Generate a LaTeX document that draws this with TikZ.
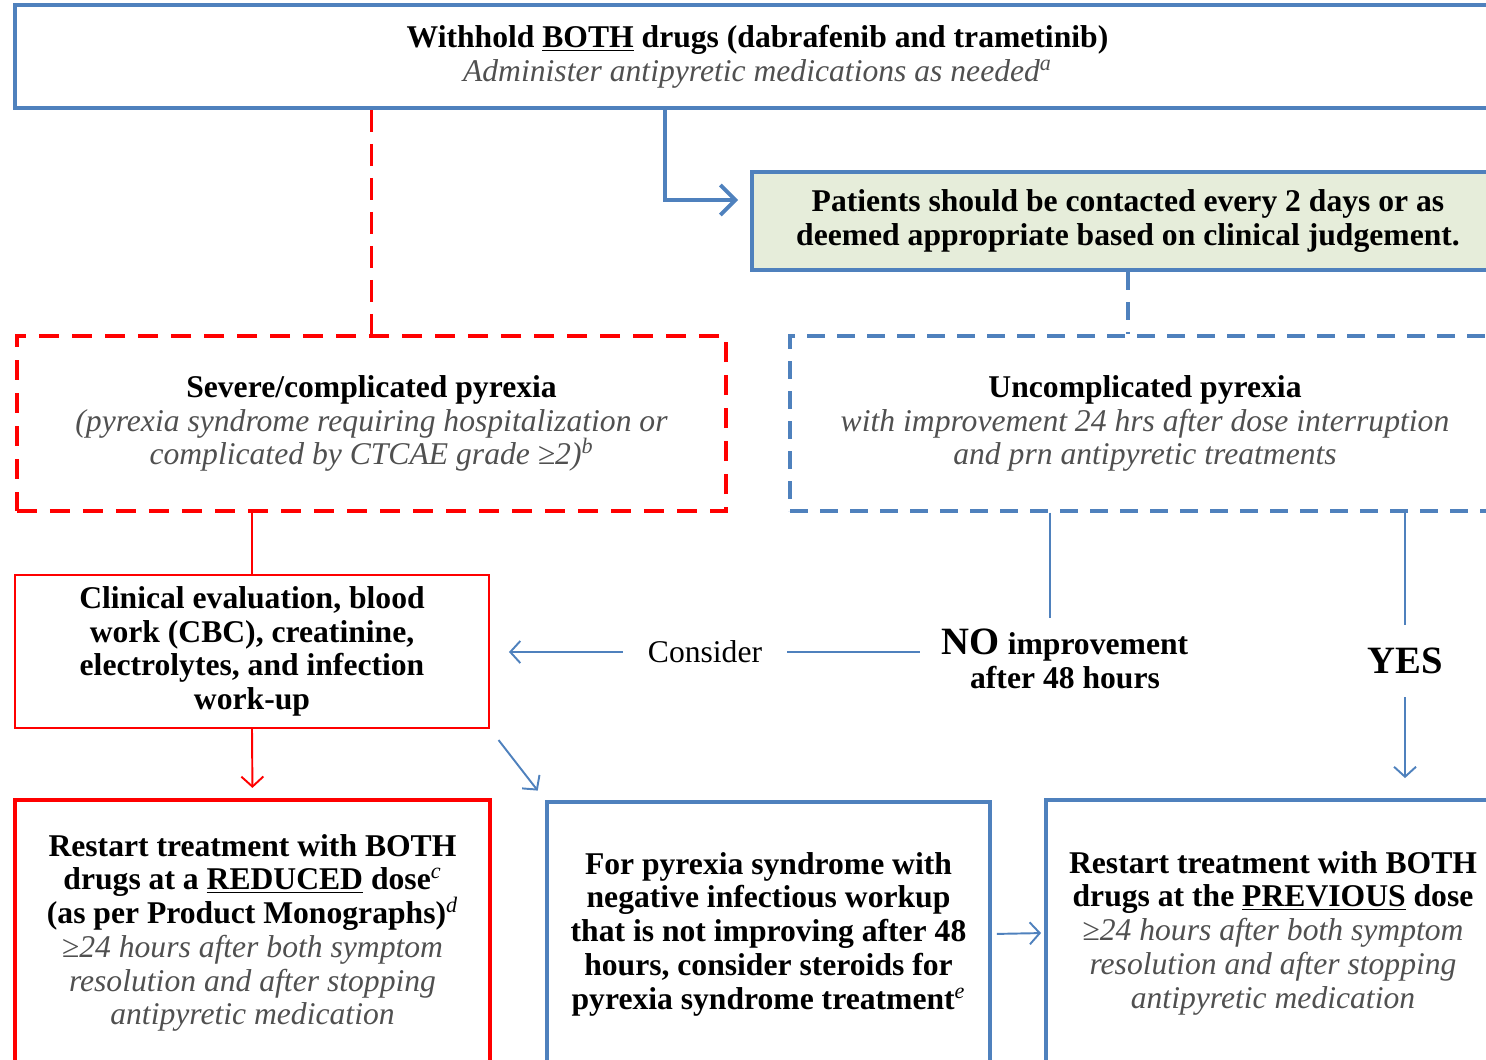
\documentclass[tikz,border=0pt]{standalone}
\usepackage{fontspec}
\setmainfont{Liberation Serif}
\usetikzlibrary{arrows.meta,positioning}

\definecolor{boxblue}{RGB}{79,129,189}
\definecolor{boxred}{RGB}{255,0,0}
\definecolor{notegreen}{RGB}{230,237,218}
\definecolor{notegray}{RGB}{80,80,80}
\newcommand\boxfont{\fontsize{18}{19.2}\selectfont\bfseries}
\newcommand\gnote[1]{{\color{notegray}\mdseries\itshape #1}}
\newcommand\fnote[1]{\textsuperscript{\mdseries\itshape #1}}

\begin{document}
\begin{tikzpicture}[x=0.2mm,y=-0.2mm]
\tikzset{
  bluebox/.style={draw=boxblue,line width=2.2pt,align=center,inner sep=0pt,font=\boxfont},
  redbox/.style={draw=boxred,line width=1.1pt,align=center,inner sep=0pt,font=\boxfont},
  reddashbox/.style={redbox,line width=2.2pt,dash pattern=on 4mm off 2.6mm},
  bluedashbox/.style={bluebox,line width=1.8pt,dash pattern=on 3.6mm off 2.4mm},
  flowlabel/.style={align=center,font=\boxfont},
  blueline/.style={draw=boxblue,line width=1.1pt},
  bluearrow/.style={blueline,-{Straight Barb[length=2mm,width=4.4mm]}},
  redline/.style={draw=boxred,line width=1.1pt},
  redarrow/.style={redline,-{Straight Barb[length=2mm,width=4.4mm]}}
}
\useasboundingbox (0,0) rectangle (1486,1059);
\clip (0,0) rectangle (1486,1059);
% boxes
\node[bluebox,minimum width=297mm,minimum height=20.6mm] (withhold) at (757.5,56.5)
  {Withhold \underline{BOTH} drugs (dabrafenib and trametinib)\\
   \gnote{Administer antipyretic medications as needed\fnote{a}}};
\node[bluebox,fill=notegreen,minimum width=150.4mm,minimum height=19.6mm] (contact) at (1128,221)
  {Patients should be contacted every 2 days or as\\
   deemed appropriate based on clinical judgement.};
\node[reddashbox,minimum width=141.8mm,minimum height=35mm] (severe) at (371.5,423.5)
  {Severe/complicated pyrexia\\
   \gnote{(pyrexia syndrome requiring hospitalization or}\\
   \gnote{complicated by CTCAE grade ≥2)\fnote{b}}};
\node[bluedashbox,minimum width=142mm,minimum height=35mm] (uncomp) at (1145,423.5)
  {Uncomplicated pyrexia\\
   \gnote{with improvement 24 hrs after dose interruption}\\
   \gnote{and prn antipyretic treatments}};
\node[redbox,minimum width=94.8mm,minimum height=30.6mm] (workup) at (252,651.5)
  {Clinical evaluation, blood\\ work (CBC), creatinine,\\
   electrolytes, and infection\\ work-up};
\node[redbox,line width=2.4pt,minimum width=95mm,minimum height=53.2mm] (reduced) at (252.5,933)
  {Restart treatment with BOTH\\
   drugs at a \underline{REDUCED} dose\fnote{c}\\
   (as per Product Monographs)\fnote{d}\\
   \gnote{≥24 hours after both symptom}\\
   \gnote{resolution and after stopping}\\
   \gnote{antipyretic medication}};
\node[bluebox,minimum width=88.6mm,minimum height=52.8mm] (steroid) at (768.5,934)
  {For pyrexia syndrome with\\ negative infectious workup\\
   that is not improving after 48\\ hours, consider steroids for\\
   pyrexia syndrome treatment\fnote{e}};
\node[bluebox,minimum width=90.8mm,minimum height=53.2mm] (previous) at (1273,933)
  {Restart treatment with BOTH\\
   drugs at the \underline{PREVIOUS} dose\\
   \gnote{≥24 hours after both symptom}\\
   \gnote{resolution and after stopping}\\
   \gnote{antipyretic medication}};
% labels
\node[flowlabel,inner sep=4.4mm] (noimp) at (1065,659)
  {{\fontsize{22}{22}\selectfont NO} improvement\\ after 48 hours};
\node[flowlabel,font=\boxfont\mdseries,inner sep=5mm] (consider) at (705,652) {Consider};
\node[flowlabel,font=\fontsize{22}{22}\selectfont\bfseries,inner sep=4.6mm] (yes) at (1405,661) {YES};
\coordinate (c_split) at (665,200);
\coordinate (c_noimp) at (1050,618);
% connectors
\draw[bluearrow,line width=2.2pt,shorten >=2.4mm,-{Straight Barb[length=3mm,width=6mm]}]
  (withhold.south -| c_split) |- (contact.west |- c_split);
\draw[redline,line width=2.2pt,dash pattern=on 4.4mm off 2.4mm] (withhold.south -| severe.north) -- (severe.north);
\draw[blueline,line width=1.8pt,dash pattern=on 3.6mm off 2.4mm] (contact.south) -- (contact.south |- uncomp.north);
\draw[redline] (severe.south -| workup.north) -- (workup.north);
\draw[redarrow,shorten >=2mm] (workup.south) -- (reduced.north);
\draw[blueline] (uncomp.south -| c_noimp) -- (c_noimp);
\draw[blueline,line width=1.6pt] (noimp.west |- consider) -- (consider.east);
\draw[bluearrow,shorten >=3.8mm] (consider.west) -- (workup.east |- consider);
\draw[blueline] (uncomp.south -| yes) -- (yes);
\draw[bluearrow,shorten >=4mm] (yes) -- (yes |- previous.north);
\draw[bluearrow,shorten <=2.8mm,shorten >=2.4mm] (workup.south east) -- (steroid.north west);
\draw[bluearrow,shorten <=1mm,shorten >=0.6mm] (steroid.east) -- (previous.west);
\end{tikzpicture}
\end{document}
